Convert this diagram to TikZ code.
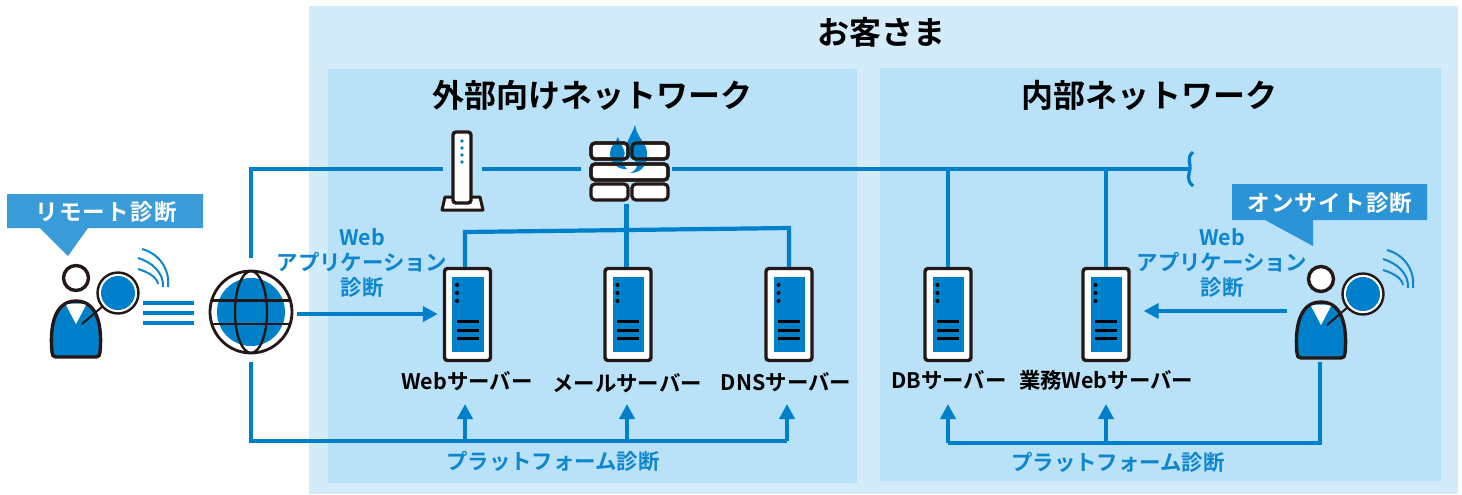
\documentclass[tikz,border=0pt]{standalone}
\usepackage{fontspec}
\setmainfont{Noto Sans CJK JP}[BoldFont={Noto Sans CJK JP Bold}]
\usetikzlibrary{arrows.meta,calc}
\definecolor{outerpanel}{HTML}{D4EBFA}
\definecolor{innerpanel}{HTML}{B9E1F8}
\definecolor{mainblue}{HTML}{0080CB}
\definecolor{textblue}{HTML}{0E86CE}
\definecolor{calloutA}{HTML}{3A9BD9}
\definecolor{calloutB}{HTML}{2B94D6}
\definecolor{inkblack}{HTML}{231815}
\tikzset{
  x=0.5pt,y=-0.5pt,
  panelouter/.style={fill=outerpanel,draw=none},
  panelinner/.style={fill=innerpanel,draw=none},
  wire/.style={draw=mainblue,line width=2.1pt},
  arrowwire/.style={wire,-{Triangle[length=7.5pt,width=7.5pt]}},
  ghost/.style={inner sep=0pt,outer sep=0pt,draw=none},
  title/.style={font=\fontsize{16}{19}\bfseries,text=black,inner sep=0pt},
  srvlabel/.style={font=\fontsize{10.7}{13}\bfseries,text=black,inner sep=0pt},
  diag/.style={font=\fontsize{10.7}{12.6}\bfseries,text=textblue,inner sep=0pt,align=center},
  callouttext/.style={font=\fontsize{11.3}{14}\bfseries\addfontfeature{LetterSpace=5},text=white,inner sep=0pt},
  serverbox/.style={rectangle,draw=inkblack,fill=white,line width=1.7pt,rounded corners=1.5pt,minimum width=23pt,minimum height=46pt,inner sep=0pt},
  inkline/.style={draw=black,line width=1.1pt},
  pics/server/.style={code={
    \node[serverbox] (-box) at (0,0) {};
    \fill[mainblue] (-15.5,-37.5) rectangle (16,37.5);
    \foreach \yy in {-29.5,-21.5,-13.5}{\fill[black] (-10.5,\yy) circle (2);}
    \foreach \yy in {7,16,24}{\draw[inkline] (-11,\yy) -- (11,\yy);}
  }},
  pics/person/.style={code={
    \coordinate (-c) at (0,0);
    \draw[inkblack,line width=1.7pt,fill=mainblue,line join=round]
      (-20,37) -- (20,37) .. controls (23,37) and (24,35) .. (24,32)
      .. controls (26,12) and (24,-19) .. (0,-19)
      .. controls (-24,-19) and (-26,12) .. (-24,32)
      .. controls (-24,35) and (-23,37) .. (-20,37) -- cycle;
    \fill[white] (-10,-15) .. controls (-6,-17) and (6,-17) .. (10,-15) -- (0,4) -- cycle;
    \draw[inkblack,line width=1pt] (6,4) -- (27,-14);
    \draw[inkblack,line width=1.7pt,fill=white] (0,-42) circle (12.5);
    \draw[inkblack,line width=1.2pt,fill=white] (42,-27) circle (20.5);
    \fill[mainblue] (42,-27) circle (17);
    \draw[textblue,line width=1pt] (66,-71) .. controls (84,-66) and (94,-50) .. (92,-33);
    \draw[textblue,line width=1pt] (62,-62) .. controls (76,-58) and (88,-47) .. (87,-33);
    \draw[textblue,line width=1pt] (62,-51) .. controls (72,-48) and (81,-43) .. (82,-36);
  }},
}
\begin{document}
\begin{tikzpicture}
\useasboundingbox (0,0) rectangle (1462,494);
\fill[white] (0,0) rectangle (1462,494);
% panels
\path[panelouter] (309,6) rectangle (1458,494);
\path[panelinner] (328,69) rectangle (857,483);
\path[panelinner] (880,68) rectangle (1441,481);
\node[title] (tcustomer) at (881,32) {お客さま};
\node[title] (texternal) at (592,95) {外部向けネットワーク};
\node[title] (tinternal) at (1149,95) {内部ネットワーク};

% anchors for the devices
\node[ghost,circle,minimum size=46pt] (globe) at (251,312) {};
\node[ghost,rectangle,minimum width=19.5pt,minimum height=30pt] (router) at (462.5,169) {};
\node[ghost,rectangle,minimum width=45.5pt,minimum height=35pt] (fw) at (626.5,169) {};
\coordinate (squig) at (1190,169);

% servers
\pic (s1) at (467.5,314.5) {server};
\pic (s2) at (628,314.5) {server};
\pic (s3) at (789,314.5) {server};
\pic (s4) at (948,314.5) {server};
\pic (s5) at (1106,314.5) {server};

% people
\pic (remote) at (76,320) {person};
\pic (onsite) at (1321,321) {person};

% three lines
\foreach \yy in {303,313,323}{\draw[mainblue,line width=2pt] (143,\yy) -- (194,\yy);}

% globe
\fill[mainblue] (globe.center) circle (34);
\begin{scope}
\clip (globe.center) circle (41);
\draw[inkblack,line width=1.2pt] (globe.center) ellipse (16 and 41);
\draw[inkblack,line width=1.2pt] (205,300.5) -- (297,300.5);
\draw[inkblack,line width=1.2pt] (205,324) -- (297,324);
\end{scope}
\draw[inkblack,line width=1.4pt] (globe.center) circle (41);

% router
\draw[inkblack,line width=1.5pt,fill=white,line join=round] (445,197) -- (480,197) -- (483,210) -- (442,210) -- cycle;
\draw[inkblack,line width=1.7pt,fill=white,rounded corners=1.5pt] (453,132) rectangle (471,203);
\foreach \yy in {141,148,155,162}{\fill[mainblue] (462,\yy) circle (1.9);}

% firewall
\foreach \xa/\ya/\xb/\yb in {591/143/628/159,632/143/668/159,591/164/668/180,591/184/628/200,632/184/668/200}{
  \draw[inkblack,line width=1.6pt,fill=white,rounded corners=2pt] (\xa,\ya) rectangle (\xb,\yb);}
\fill[mainblue] (635,125) .. controls (632,135) and (625,142) .. (626,152)
  .. controls (627,160) and (637,158) .. (637,165) .. controls (637,169) and (633,172) .. (630,173)
  .. controls (643,173) and (648,163) .. (647,152) .. controls (646,142) and (637,138) .. (635,125) -- cycle;
\fill[mainblue] (618,137) .. controls (616,143) and (610,146) .. (610,153)
  .. controls (610,163) and (618,170) .. (627,169) .. controls (623,165) and (621,161) .. (624,157)
  .. controls (627,152) and (621,146) .. (618,137) -- cycle;
\foreach \xa/\ya/\xb/\yb in {591/143/628/159,632/143/668/159,591/164/668/180}{
  \draw[inkblack,line width=1.6pt,rounded corners=2pt] (\xa,\ya) rectangle (\xb,\yb);}

% callouts
\fill[calloutA] (7,194) -- (203,194) -- (203,228) -- (88,228) -- (68,256) -- (40,228) -- (7,228) -- cycle;
\fill[calloutB] (1232,184) -- (1427,184) -- (1427,220) -- (1313,220) -- (1313,246) -- (1265,220) -- (1232,220) -- cycle;
\node[callouttext] (cremote) at (106,212) {リモート診断};
\node[callouttext] (consite) at (1330,203) {オンサイト診断};

% server labels
\node[srvlabel] (l1) at (467,381) {Webサーバー};
\node[srvlabel] (l2) at (627,383) {メールサーバー};
\node[srvlabel] (l3) at (786,382) {DNSサーバー};
\node[srvlabel] (l4) at (949,380) {DBサーバー};
\node[srvlabel] (l5) at (1106,380) {業務Webサーバー};

% diagnosis labels
\node[diag] (dweb1) at (362,263) {Web\\アプリケーション\\診断};
\node[diag] (dweb2) at (1222,263) {Web\\アプリケーション\\診断};
\node[diag] (dplat1) at (553,461) {プラットフォーム診断};
\node[diag] (dplat2) at (1118,462) {プラットフォーム診断};

% connectors
\draw[wire] ([yshift=4pt]globe.north) -- (251,169) -- (router.west);
\draw[wire] (router.east) -- (fw.west);
\draw[wire] (fw.east) -- (squig);
\draw[draw=mainblue,line width=1.6pt] (1193,152) .. controls (1186,158) and (1191,164) .. (squig)
  .. controls (1189,175) and (1186,180) .. (1193,186);
\draw[wire] (s4-box.north) -- (s4-box.north |- squig);
\draw[wire] (s5-box.north) -- (s5-box.north |- squig);
\draw[wire] (fw.south) -- (fw.south |- s2-box.north);
\coordinate (busL) at (465,232);
\coordinate (busR) at (789,228);
\draw[wire] (s1-box.north -| busL) -- (busL) -- (busR) -- (s3-box.north);

\draw[arrowwire,shorten >=2.5pt] (globe.east |- 296,314) -- (s1-box.west |- 296,314) ;
\coordinate (onsiteL) at (1287,311);
\draw[arrowwire,shorten >=6.5pt] (onsiteL) -- (s5-box.east |- onsiteL);

\coordinate (g1) at (251,441);
\coordinate (g2) at (787,441);
\coordinate (tip1) at (465,404);
\coordinate (tip2) at (627,404);
\coordinate (tip3) at (787,404);
\draw[wire] ([yshift=-2pt]globe.south) -- (g1) -- (g2);
\draw[arrowwire] (g1 -| tip1) -- (tip1);
\draw[arrowwire] (g1 -| tip2) -- (tip2);
\draw[arrowwire] (g2) -- (tip3);

\coordinate (h1) at (1320,443);
\coordinate (h2) at (948,443);
\coordinate (tip4) at (948,404);
\coordinate (tip5) at (1106,404);
\draw[wire] ($(onsite-c)+(-1,41)$) -- (h1) -- (h2);
\draw[arrowwire] (h2) -- (tip4);
\draw[arrowwire] (h1 -| tip5) -- (tip5);
\end{tikzpicture}
\end{document}
